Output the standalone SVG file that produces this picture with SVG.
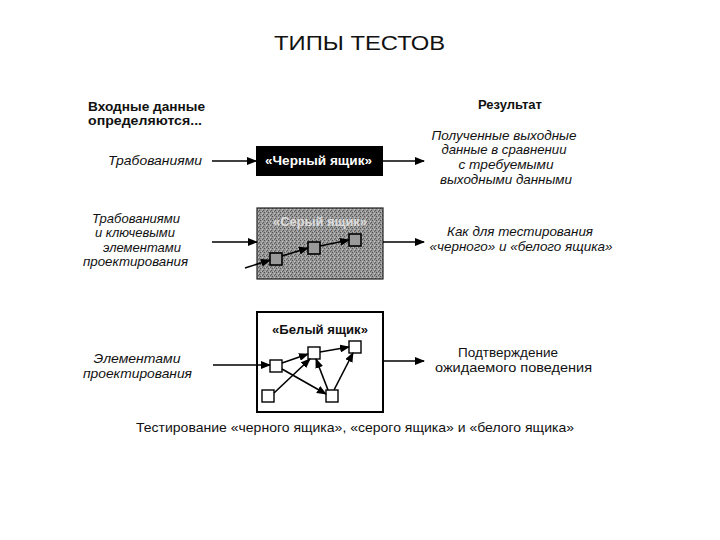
<svg xmlns="http://www.w3.org/2000/svg" width="720" height="540" viewBox="0 0 720 540">
<defs>
<marker id="ah" markerWidth="10" markerHeight="8" refX="9" refY="4" orient="auto" markerUnits="userSpaceOnUse">
<path d="M0,0 L10,4 L0,8 Z" fill="#000"/>
</marker>
<pattern id="dither" width="4" height="4" patternUnits="userSpaceOnUse">
<rect width="4" height="4" fill="#979797"/>
<rect x="0" y="0" width="1" height="1" fill="#505050"/>
<rect x="2" y="1" width="1" height="1" fill="#c4c4c4"/>
<rect x="3" y="2" width="1" height="1" fill="#5a5a5a"/>
<rect x="1" y="3" width="1" height="1" fill="#bdbdbd"/>
<rect x="2" y="3" width="1" height="1" fill="#606060"/>
</pattern>
</defs>
<style>
text{font-family:"Liberation Sans",Arial,sans-serif;fill:#111}
.b{font-weight:bold;font-size:12.5px}
.i{font-style:italic;font-size:13px}
.r{font-size:13px}
.m{text-anchor:middle}
.ln{stroke:#000;stroke-width:1.6;fill:none}
.sq{fill:#fff;stroke:#000;stroke-width:1.4}
.gsq{fill:#9a9a9a;stroke:#000;stroke-width:1.6}
</style>
<rect width="720" height="540" fill="#fff"/>
<text x="359.5" y="50" font-size="20" class="m" textLength="171" lengthAdjust="spacingAndGlyphs">ТИПЫ ТЕСТОВ</text>

<g id="headers">
<text x="88" y="111" class="b" textLength="117" lengthAdjust="spacingAndGlyphs">Входные данные</text>
<text x="88" y="125" class="b" textLength="114" lengthAdjust="spacingAndGlyphs">определяются...</text>
<text x="510" y="109" class="b m" textLength="64" lengthAdjust="spacingAndGlyphs">Результат</text>
</g>

<g id="black-box">
<rect x="256" y="146" width="127" height="30" fill="#000"/>
<text x="318.5" y="165" class="b m" style="fill:#fff" textLength="107" lengthAdjust="spacingAndGlyphs">«Черный ящик»</text>
</g>
<g id="black-in">
<text x="108" y="165" class="i" textLength="94" lengthAdjust="spacingAndGlyphs">Трабованиями</text>
</g>
<g id="black-out">
<text x="504" y="140" class="i m" textLength="145" lengthAdjust="spacingAndGlyphs">Полученные выходные</text>
<text x="504" y="154" class="i m" textLength="125" lengthAdjust="spacingAndGlyphs">данные в сравнении</text>
<text x="506" y="169" class="i m" textLength="95" lengthAdjust="spacingAndGlyphs">с требуемыми</text>
<text x="506" y="184" class="i m" textLength="132" lengthAdjust="spacingAndGlyphs">выходными данными</text>
</g>

<g id="grey-box">
<rect x="257" y="208" width="126" height="71" fill="url(#dither)" stroke="#222" stroke-width="1.2"/>
<text x="320" y="226" class="b m" style="fill:#dcdcdc" textLength="94" lengthAdjust="spacingAndGlyphs">«Серый ящик»</text>
<rect x="270" y="253" width="12" height="12" class="gsq"/>
<rect x="308" y="242" width="12" height="12" class="gsq"/>
<rect x="349" y="234" width="12" height="12" class="gsq"/>
</g>
<g id="grey-in">
<text x="136" y="223" class="i m" textLength="88" lengthAdjust="spacingAndGlyphs">Трабованиями</text>
<text x="135" y="237" class="i m">и ключевыми</text>
<text x="142" y="252" class="i m">элементами</text>
<text x="135.5" y="266" class="i m" textLength="105" lengthAdjust="spacingAndGlyphs">проектирования</text>
</g>
<g id="grey-out">
<text x="520" y="236" class="i m" textLength="146" lengthAdjust="spacingAndGlyphs">Как для тестирования</text>
<text x="521" y="251" class="i m" textLength="183" lengthAdjust="spacingAndGlyphs">«черного» и «белого ящика»</text>
</g>

<g id="white-box">
<rect x="257" y="312" width="126" height="100" fill="#fff" stroke="#000" stroke-width="2"/>
<text x="320" y="334" class="b m" textLength="96" lengthAdjust="spacingAndGlyphs">«Белый ящик»</text>
<rect x="270" y="360" width="12" height="12" class="sq"/>
<rect x="308" y="347" width="12" height="12" class="sq"/>
<rect x="349" y="341" width="12" height="12" class="sq"/>
<rect x="262" y="390" width="12" height="12" class="sq"/>
<rect x="326" y="390" width="12" height="12" class="sq"/>
</g>
<g id="white-in">
<text x="137" y="363" class="i m" textLength="87" lengthAdjust="spacingAndGlyphs">Элементами</text>
<text x="137.5" y="378" class="i m" textLength="109" lengthAdjust="spacingAndGlyphs">проектирования</text>
</g>
<g id="white-out">
<text x="508" y="357" class="r m" textLength="100" lengthAdjust="spacingAndGlyphs">Подтверждение</text>
<text x="513.5" y="372" class="r m" textLength="157" lengthAdjust="spacingAndGlyphs">ожидаемого поведения</text>
</g>

<g id="connectors">
<line x1="212" y1="161" x2="256" y2="161" class="ln" marker-end="url(#ah)"/>
<line x1="383" y1="161" x2="424" y2="161" class="ln" marker-end="url(#ah)"/>
<line x1="212" y1="242" x2="257" y2="242" class="ln" marker-end="url(#ah)"/>
<line x1="245" y1="268" x2="270" y2="260" class="ln" marker-end="url(#ah)"/>
<line x1="282" y1="256" x2="308" y2="248" class="ln" marker-end="url(#ah)"/>
<line x1="320" y1="246" x2="349" y2="240" class="ln" marker-end="url(#ah)"/>
<line x1="383" y1="242" x2="424" y2="242" class="ln" marker-end="url(#ah)"/>
<line x1="213" y1="365" x2="270" y2="365" class="ln" marker-end="url(#ah)"/>
<line x1="282" y1="363" x2="308" y2="354" class="ln" marker-end="url(#ah)"/>
<line x1="282" y1="369" x2="326" y2="394" class="ln" marker-end="url(#ah)"/>
<line x1="274" y1="393" x2="310" y2="359" class="ln" marker-end="url(#ah)"/>
<line x1="320" y1="352" x2="349" y2="347" class="ln" marker-end="url(#ah)"/>
<line x1="328" y1="390" x2="316" y2="359" class="ln" marker-end="url(#ah)"/>
<line x1="334" y1="390" x2="353" y2="353" class="ln" marker-end="url(#ah)"/>
<line x1="383" y1="361" x2="424" y2="361" class="ln" marker-end="url(#ah)"/>
</g>

<text x="355" y="432" class="r m" textLength="438" lengthAdjust="spacingAndGlyphs">Тестирование «черного ящика», «серого ящика» и «белого ящика»</text>
</svg>
